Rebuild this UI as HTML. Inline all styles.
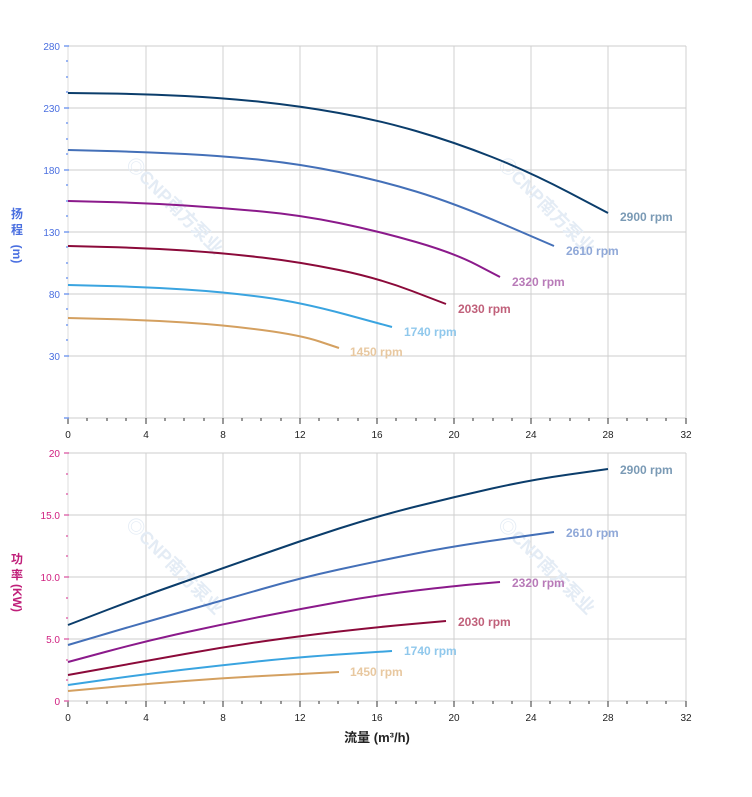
<!DOCTYPE html><html><head><meta charset="utf-8"><style>body{margin:0;background:#fff}svg{display:block}text{font-family:"Liberation Sans","Noto Sans CJK SC",sans-serif}</style></head><body>
<svg width="752" height="797" xmlns="http://www.w3.org/2000/svg">
<g stroke="#ddd" stroke-width="1.5">
<line x1="68" y1="46" x2="686" y2="46"/><line x1="68" y1="108" x2="686" y2="108"/><line x1="68" y1="170" x2="686" y2="170"/><line x1="68" y1="232" x2="686" y2="232"/><line x1="68" y1="294" x2="686" y2="294"/><line x1="68" y1="356" x2="686" y2="356"/><line x1="68" y1="418" x2="686" y2="418"/>
<line x1="68" y1="453" x2="686" y2="453"/><line x1="68" y1="515" x2="686" y2="515"/><line x1="68" y1="577" x2="686" y2="577"/><line x1="68" y1="639" x2="686" y2="639"/><line x1="68" y1="701" x2="686" y2="701"/>
</g>
<g stroke="#d0d0d0" stroke-width="1">
<line x1="146" y1="46" x2="146" y2="418"/><line x1="223" y1="46" x2="223" y2="418"/><line x1="300" y1="46" x2="300" y2="418"/><line x1="377" y1="46" x2="377" y2="418"/><line x1="454" y1="46" x2="454" y2="418"/><line x1="531" y1="46" x2="531" y2="418"/><line x1="608" y1="46" x2="608" y2="418"/><line x1="686" y1="46" x2="686" y2="418"/>
<line x1="146" y1="453" x2="146" y2="701"/><line x1="223" y1="453" x2="223" y2="701"/><line x1="300" y1="453" x2="300" y2="701"/><line x1="377" y1="453" x2="377" y2="701"/><line x1="454" y1="453" x2="454" y2="701"/><line x1="531" y1="453" x2="531" y2="701"/><line x1="608" y1="453" x2="608" y2="701"/><line x1="686" y1="453" x2="686" y2="701"/>
</g>
<line x1="68" y1="46" x2="68" y2="418" stroke="#ddd"/><line x1="68" y1="453" x2="68" y2="701" stroke="#ddd"/>
<g stroke="#333" stroke-width="1">
<path d="M68 418v6M87 418v3M107 418v3M126 418v3M146 418v6M165 418v3M184 418v3M204 418v3M223 418v6M242 418v3M261 418v3M281 418v3M300 418v6M319 418v3M338 418v3M358 418v3M377 418v6M396 418v3M416 418v3M435 418v3M454 418v6M473 418v3M493 418v3M512 418v3M531 418v6M550 418v3M570 418v3M589 418v3M608 418v6M627 418v3M647 418v3M666 418v3M686 418v6"/>
<path d="M68 701v6M87 701v3M107 701v3M126 701v3M146 701v6M165 701v3M184 701v3M204 701v3M223 701v6M242 701v3M261 701v3M281 701v3M300 701v6M319 701v3M338 701v3M358 701v3M377 701v6M396 701v3M416 701v3M435 701v3M454 701v6M473 701v3M493 701v3M512 701v3M531 701v6M550 701v3M570 701v3M589 701v3M608 701v6M627 701v3M647 701v3M666 701v3M686 701v6"/>
</g>
<g stroke="#7a9ef0" stroke-width="1.5"><path d="M64 46h5M64 108h5M64 170h5M64 232h5M64 294h5M64 356h5M64 418h5M66 61h2M66 77h2M66 92h2M66 123h2M66 139h2M66 154h2M66 185h2M66 201h2M66 216h2M66 247h2M66 263h2M66 278h2M66 309h2M66 325h2M66 340h2"/></g>
<g stroke="#e070b0" stroke-width="1.5"><path d="M64 453h5M64 515h5M64 577h5M64 639h5M64 701h5M66 474h2M66 494h2M66 536h2M66 556h2M66 598h2M66 618h2M66 660h2M66 680h2"/></g>
<g font-size="10" fill="#4a6fe0" text-anchor="end">
<text x="60" y="50">280</text><text x="60" y="112">230</text><text x="60" y="174">180</text><text x="60" y="236">130</text><text x="60" y="298">80</text><text x="60" y="360">30</text></g>
<g font-size="10" fill="#d02080" text-anchor="end">
<text x="60" y="457">20</text><text x="60" y="519">15.0</text><text x="60" y="581">10.0</text><text x="60" y="643">5.0</text><text x="60" y="705">0</text></g>
<g font-size="10" fill="#222" text-anchor="middle">
<text x="68" y="438">0</text><text x="146" y="438">4</text><text x="223" y="438">8</text><text x="300" y="438">12</text><text x="377" y="438">16</text><text x="454" y="438">20</text><text x="531" y="438">24</text><text x="608" y="438">28</text><text x="686" y="438">32</text>
<text x="68" y="721">0</text><text x="146" y="721">4</text><text x="223" y="721">8</text><text x="300" y="721">12</text><text x="377" y="721">16</text><text x="454" y="721">20</text><text x="531" y="721">24</text><text x="608" y="721">28</text><text x="686" y="721">32</text></g>
<g font-size="12" font-weight="bold" fill="#4a6fe0" text-anchor="middle"><text x="17" y="218">扬</text><text x="17" y="234">程</text><text x="17" y="258" transform="rotate(90 17 254)">(m)</text></g>
<g font-size="12" font-weight="bold" fill="#c0207a" text-anchor="middle"><text x="17" y="563">功</text><text x="17" y="579">率</text><text x="17" y="602" transform="rotate(90 17 598)">(KW)</text></g>
<text x="377" y="742" font-size="13" font-weight="bold" fill="#222" text-anchor="middle">流量 (m³/h)</text>
<g font-size="18" font-weight="bold" fill="#e4ecf5">
<text transform="translate(125,165) rotate(45)">◎CNP南方泵业</text>
<text transform="translate(497,165) rotate(45)">◎CNP南方泵业</text>
<text transform="translate(125,525) rotate(45)">◎CNP南方泵业</text>
<text transform="translate(497,525) rotate(45)">◎CNP南方泵业</text>
</g>
<g fill="none" stroke-width="2" stroke-linejoin="round">
<path stroke="#0b3d6b" d="M68,93 L107,93.5 Q146,94 185,96 Q224,98 262,102 Q300,106 339,113 Q378,120 416,131 Q454,142 492,157 Q530,172 569,192.5 L608,213"/>
<path stroke="#4470b8" d="M68,150 L107,151 Q146,152 185,154 Q224,156 262,160 Q300,164 339,172 Q378,180 416,191.5 Q454,203 504,224.5 L554,246"/>
<path stroke="#8b1a8b" d="M68,201 L107,202 Q146,203 185,205.5 Q224,208 262,211.5 Q300,215 339,223 Q378,231 416,242 Q454,253 477,265 L500,277"/>
<path stroke="#8b0a3a" d="M68,246 L107,247 Q146,248 185,250.5 Q224,253 262,257.5 Q300,262 339,270 Q378,278 412,291 L446,304"/>
<path stroke="#3aa4e0" d="M68,285 L107,286 Q146,287 185,289.5 Q224,292 262,297 Q300,302 346,314.5 L392,327"/>
<path stroke="#d4a060" d="M68,318 L107,319 Q146,320 185,322.5 Q224,325 262,330 Q300,335 319.5,341.5 L339,348"/>
<path stroke="#0b3d6b" d="M68,625 L107,610 Q146,595 185,581.5 Q224,568 262,554.5 Q300,541 339,528.5 Q378,516 416,506.5 Q454,497 492,488.5 Q530,480 569,474.5 L608,469"/>
<path stroke="#4470b8" d="M68,645 L107,633.5 Q146,622 185,611 Q224,600 262,589 Q300,578 339,569.5 Q378,561 416,553.5 Q454,546 504,539 L554,532"/>
<path stroke="#8b1a8b" d="M68,662 L107,651.5 Q146,641 185,632.5 Q224,624 262,616.5 Q300,609 339,602 Q378,595 416,590.5 Q454,586 477,584 L500,582"/>
<path stroke="#8b0a3a" d="M68,675 L107,668 Q146,661 185,654 Q224,647 262,641.5 Q300,636 339,631.5 Q378,627 412,624 L446,621"/>
<path stroke="#3aa4e0" d="M68,685 L107,679.5 Q146,674 185,669.5 Q224,665 262,661 Q300,657 346,654 L392,651"/>
<path stroke="#d4a060" d="M68,691 L107,687.5 Q146,684 185,681 Q224,678 262,676 Q300,674 319.5,673 L339,672"/>
</g>
<g font-size="12" font-weight="bold">
<text x="620" y="221" fill="#7a9ab5">2900 rpm</text><text x="566" y="255" fill="#8fa8d8">2610 rpm</text><text x="512" y="286" fill="#b87ab8">2320 rpm</text><text x="458" y="313" fill="#c0607a">2030 rpm</text><text x="404" y="336" fill="#90c8ec">1740 rpm</text><text x="350" y="356" fill="#e8c8a0">1450 rpm</text>
<text x="620" y="474" fill="#7a9ab5">2900 rpm</text><text x="566" y="537" fill="#8fa8d8">2610 rpm</text><text x="512" y="587" fill="#b87ab8">2320 rpm</text><text x="458" y="626" fill="#c0607a">2030 rpm</text><text x="404" y="655" fill="#90c8ec">1740 rpm</text><text x="350" y="676" fill="#e8c8a0">1450 rpm</text>
</g>
</svg></body></html>
